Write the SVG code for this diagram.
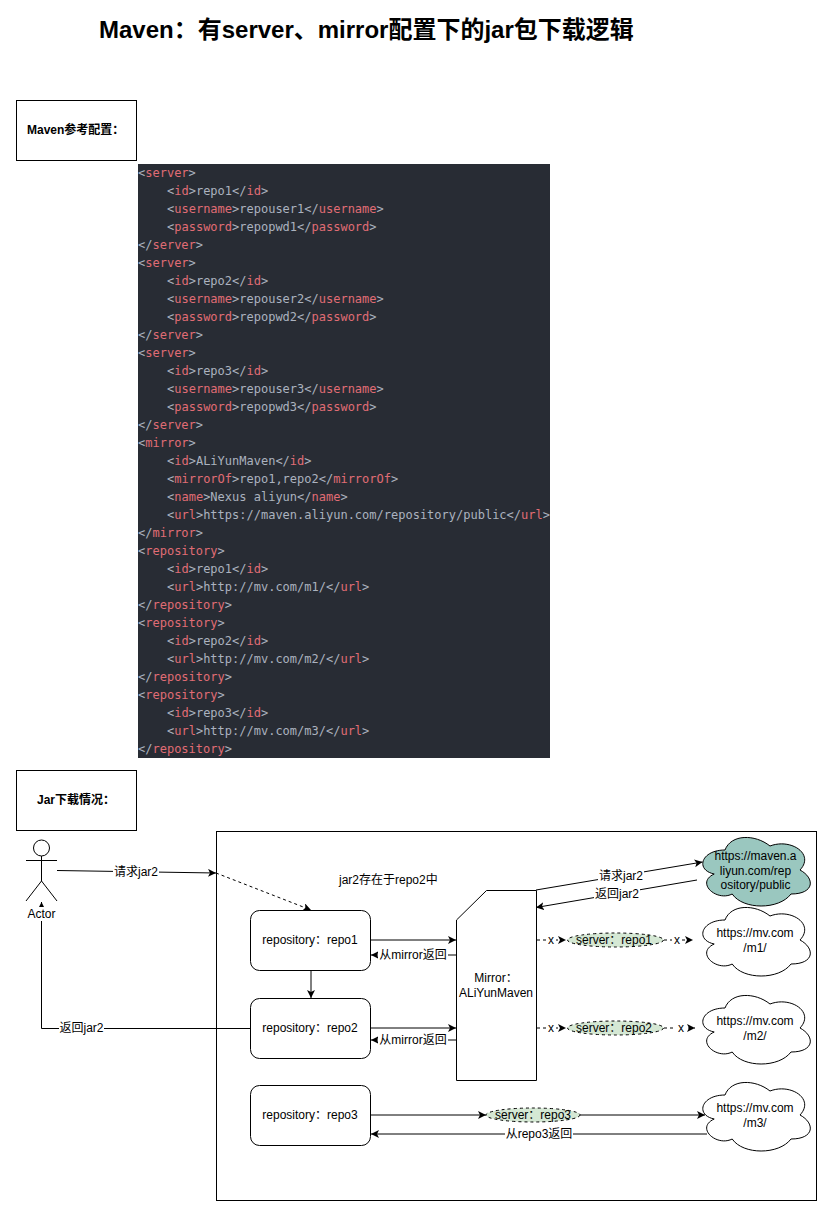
<svg xmlns="http://www.w3.org/2000/svg" width="833" height="1217" viewBox="0 0 833 1217">
<style>
text{font-family:"Liberation Sans","Noto Sans CJK SC",sans-serif;font-size:12px;fill:#000}
.m{text-anchor:middle}
.box{fill:#fff;stroke:#000;stroke-width:1}
.code text{font-family:"DejaVu Sans Mono","Liberation Mono",monospace;font-size:12px;fill:#abb2bf}
.code tspan{fill:#e06c75}
.lab{fill:#fff}
.c path{fill:none;stroke:#000;stroke-width:1}
.d{stroke-dasharray:3 3}
.h{marker-end:url(#a)}
.e{fill:#d5e8d4;stroke:#000;stroke-dasharray:3 3}
</style>
<defs>
<marker id="a" markerUnits="userSpaceOnUse" markerWidth="10" markerHeight="10" refX="8" refY="4" orient="auto"><path d="M0 0L8 4L0 8L2 4Z" fill="#000"/></marker>
<path id="cl" d="M30 20C6 20 0 40 19.2 44C0 52.8 21.6 72 37.2 64C48 80 84 80 96 64C120 64 120 48 105 40C120 24 96 8 75 16C60 4 36 4 30 20Z"/>
</defs>
<rect width="833" height="1217" fill="#fff"/>
<text id="title" x="99" y="38" style="font-size:24px;font-weight:bold">Maven：有server、mirror配置下的jar包下载逻辑</text>
<g id="n-maven-config"><rect class="box" x="16.500" y="100.500" width="120" height="60"/><text x="27" y="134" style="font-weight:bold">Maven参考配置：</text></g>
<g id="n-code" class="code">
<rect x="138" y="164" width="412" height="594" fill="#282c34"/>
<text x="138" y="177">&lt;<tspan>server</tspan>&gt;</text>
<text x="167" y="195">&lt;<tspan>id</tspan>&gt;repo1&lt;/<tspan>id</tspan>&gt;</text>
<text x="167" y="213">&lt;<tspan>username</tspan>&gt;repouser1&lt;/<tspan>username</tspan>&gt;</text>
<text x="167" y="231">&lt;<tspan>password</tspan>&gt;repopwd1&lt;/<tspan>password</tspan>&gt;</text>
<text x="138" y="249">&lt;/<tspan>server</tspan>&gt;</text>
<text x="138" y="267">&lt;<tspan>server</tspan>&gt;</text>
<text x="167" y="285">&lt;<tspan>id</tspan>&gt;repo2&lt;/<tspan>id</tspan>&gt;</text>
<text x="167" y="303">&lt;<tspan>username</tspan>&gt;repouser2&lt;/<tspan>username</tspan>&gt;</text>
<text x="167" y="321">&lt;<tspan>password</tspan>&gt;repopwd2&lt;/<tspan>password</tspan>&gt;</text>
<text x="138" y="339">&lt;/<tspan>server</tspan>&gt;</text>
<text x="138" y="357">&lt;<tspan>server</tspan>&gt;</text>
<text x="167" y="375">&lt;<tspan>id</tspan>&gt;repo3&lt;/<tspan>id</tspan>&gt;</text>
<text x="167" y="393">&lt;<tspan>username</tspan>&gt;repouser3&lt;/<tspan>username</tspan>&gt;</text>
<text x="167" y="411">&lt;<tspan>password</tspan>&gt;repopwd3&lt;/<tspan>password</tspan>&gt;</text>
<text x="138" y="429">&lt;/<tspan>server</tspan>&gt;</text>
<text x="138" y="447">&lt;<tspan>mirror</tspan>&gt;</text>
<text x="167" y="465">&lt;<tspan>id</tspan>&gt;ALiYunMaven&lt;/<tspan>id</tspan>&gt;</text>
<text x="167" y="483">&lt;<tspan>mirrorOf</tspan>&gt;repo1,repo2&lt;/<tspan>mirrorOf</tspan>&gt;</text>
<text x="167" y="501">&lt;<tspan>name</tspan>&gt;Nexus aliyun&lt;/<tspan>name</tspan>&gt;</text>
<text x="167" y="519">&lt;<tspan>url</tspan>&gt;https://maven.aliyun.com/repository/public&lt;/<tspan>url</tspan>&gt;</text>
<text x="138" y="537">&lt;/<tspan>mirror</tspan>&gt;</text>
<text x="138" y="555">&lt;<tspan>repository</tspan>&gt;</text>
<text x="167" y="573">&lt;<tspan>id</tspan>&gt;repo1&lt;/<tspan>id</tspan>&gt;</text>
<text x="167" y="591">&lt;<tspan>url</tspan>&gt;http://mv.com/m1/&lt;/<tspan>url</tspan>&gt;</text>
<text x="138" y="609">&lt;/<tspan>repository</tspan>&gt;</text>
<text x="138" y="627">&lt;<tspan>repository</tspan>&gt;</text>
<text x="167" y="645">&lt;<tspan>id</tspan>&gt;repo2&lt;/<tspan>id</tspan>&gt;</text>
<text x="167" y="663">&lt;<tspan>url</tspan>&gt;http://mv.com/m2/&lt;/<tspan>url</tspan>&gt;</text>
<text x="138" y="681">&lt;/<tspan>repository</tspan>&gt;</text>
<text x="138" y="699">&lt;<tspan>repository</tspan>&gt;</text>
<text x="167" y="717">&lt;<tspan>id</tspan>&gt;repo3&lt;/<tspan>id</tspan>&gt;</text>
<text x="167" y="735">&lt;<tspan>url</tspan>&gt;http://mv.com/m3/&lt;/<tspan>url</tspan>&gt;</text>
<text x="138" y="753">&lt;/<tspan>repository</tspan>&gt;</text>
</g>
<g id="n-jar-title"><rect class="box" x="16.500" y="770.500" width="120" height="60"/><text x="37" y="804" style="font-weight:bold">Jar下载情况：</text></g>
<g id="n-frame"><rect class="box" x="216.500" y="831.500" width="600" height="369"/></g>
<g id="n-actor" fill="none" stroke="#000">
<circle cx="41.500" cy="848" r="8"/>
<path d="M41.500 856V881M26 860.500H57M41.500 881L26 901M41.500 881L57 901"/>
</g>
<g id="connectors" class="c">
<path class="h" d="M57 870.500L216 873"/>
<path class="d h" d="M216 873L311 910"/>
<path class="h" d="M311 970V998"/>
<path class="h" d="M250 1028.500H41.500V902"/>
<path class="h" d="M371 940H456"/>
<path class="h" d="M456 955H371"/>
<path class="h" d="M371 1028H456"/>
<path class="h" d="M456 1040H371"/>
<path class="h" d="M536 890L702.500 862"/>
<path class="h" d="M697 880L536 907.500"/>
<path class="d h" d="M537 940H566"/>
<path class="d h" d="M664 940H693"/>
<path class="d h" d="M537 1028H566"/>
<path class="d h" d="M664 1028H695"/>
<path class="h" d="M371 1115H486"/>
<path class="h" d="M580 1115H705"/>
<path class="h" d="M707 1134H371"/>
</g>
<rect class="lab" x="26" y="907" width="32" height="14"/>
<text class="m" x="41.500" y="918">Actor</text>
<text x="339" y="884">jar2存在于repo2中</text>
<g id="n-repo1"><rect class="box" x="250.500" y="910.500" width="120" height="60" rx="9"/><text class="m" x="310" y="944">repository：repo1</text></g>
<g id="n-repo2"><rect class="box" x="250.500" y="998.500" width="120" height="60" rx="9"/><text class="m" x="310" y="1032">repository：repo2</text></g>
<g id="n-repo3"><rect class="box" x="250.500" y="1085.500" width="120" height="60" rx="9"/><text class="m" x="310" y="1119">repository：repo3</text></g>
<g id="n-mirror"><path class="box" d="M456.500 920L486.500 890.500H536.500V1080.500H456.500Z"/><text class="m" x="496" y="982">Mirror：</text><text class="m" x="496" y="997">ALiYunMaven</text></g>
<g id="n-cloud-ali"><use href="#cl" x="695" y="830" fill="#9ac7bf" stroke="#000"/><text class="m" x="755.500" y="860">https://maven.a</text><text class="m" x="755.500" y="875">liyun.com/rep</text><text class="m" x="755.500" y="889">ository/public</text></g>
<g id="n-cloud-m1"><use href="#cl" x="695" y="900" fill="#fff" stroke="#000"/><text class="m" x="755" y="937">https://mv.com</text><text class="m" x="755" y="952">/m1/</text></g>
<g id="n-cloud-m2"><use href="#cl" x="695" y="988" fill="#fff" stroke="#000"/><text class="m" x="755" y="1025">https://mv.com</text><text class="m" x="755" y="1040">/m2/</text></g>
<g id="n-cloud-m3"><use href="#cl" x="695" y="1075" fill="#fff" stroke="#000"/><text class="m" x="755" y="1112">https://mv.com</text><text class="m" x="755" y="1127">/m3/</text></g>
<g id="n-server1"><ellipse class="e" cx="615.500" cy="940" rx="48" ry="7"/><text class="m" x="614" y="944">server：repo1</text></g>
<g id="n-server2"><ellipse class="e" cx="615.500" cy="1028" rx="48" ry="7"/><text class="m" x="614" y="1032">server：repo2</text></g>
<g id="n-server3"><ellipse class="e" cx="533" cy="1115" rx="47" ry="7"/><text class="m" x="533" y="1119">server：repo3</text></g>
<g id="labels">
<rect class="lab" x="113" y="865" width="46" height="14"/><text class="m" x="136" y="876">请求jar2</text>
<rect class="lab" x="59" y="1021" width="45" height="14"/><text class="m" x="81.500" y="1032">返回jar2</text>
<rect class="lab" x="378" y="948" width="70" height="14"/><text class="m" x="413" y="959">从mirror返回</text>
<rect class="lab" x="378" y="1033" width="70" height="14"/><text class="m" x="413" y="1044">从mirror返回</text>
<rect class="lab" x="598" y="869" width="46" height="14"/><text class="m" x="621" y="880">请求jar2</text>
<rect class="lab" x="594" y="887" width="46" height="14"/><text class="m" x="617" y="898">返回jar2</text>
<rect class="lab" x="547" y="934" width="9" height="12"/><text class="m" x="551" y="944">x</text>
<rect class="lab" x="672" y="934" width="9" height="12"/><text class="m" x="677" y="944">x</text>
<rect class="lab" x="547" y="1022" width="9" height="12"/><text class="m" x="551" y="1032">x</text>
<rect class="lab" x="676" y="1022" width="9" height="12"/><text class="m" x="681" y="1032">x</text>
<rect class="lab" x="505" y="1127" width="68" height="14"/><text class="m" x="539" y="1138">从repo3返回</text>
</g>
</svg>
